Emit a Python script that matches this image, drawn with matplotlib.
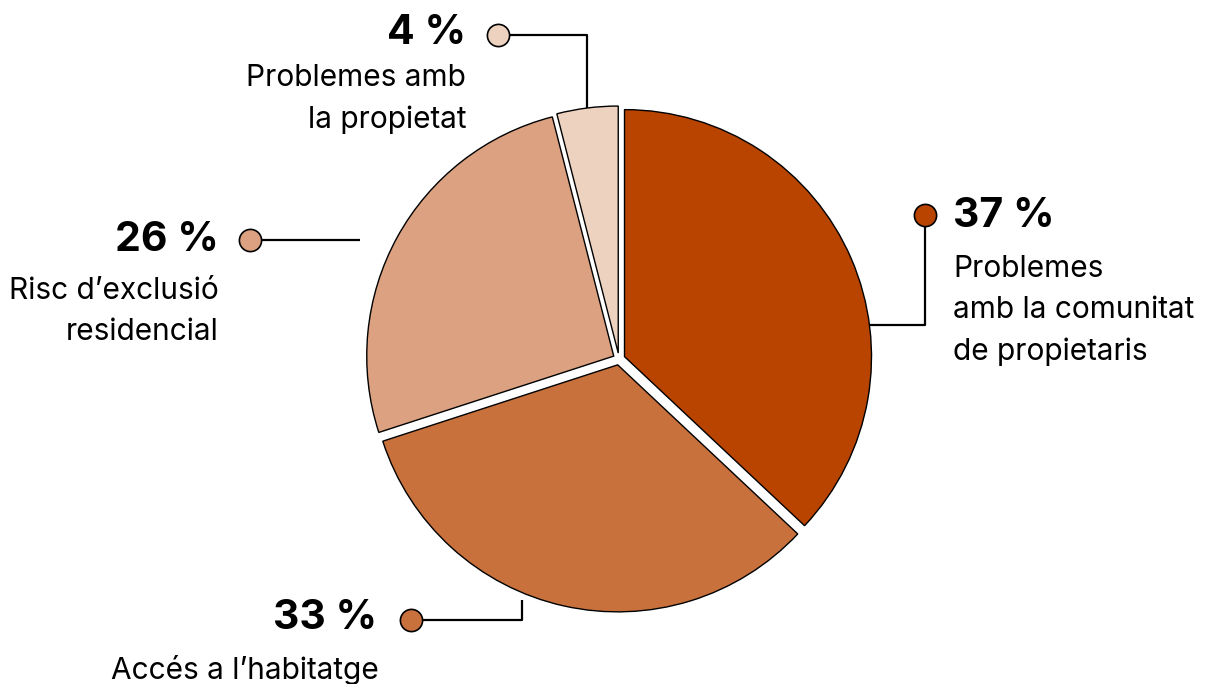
import matplotlib.pyplot as plt

# shares of cases by type of housing problem
shares = [37, 33, 26, 4]
labels = ["Problemes\namb la comunitat\nde propietaris",
          "Accés a l’habitatge",
          "Risc d’exclusió\nresidencial",
          "Problemes amb\nla propietat"]
colors = ["#B84400", "#C8713C", "#DBA180", "#EDD2C0"]

W, H = 1209, 684
plt.rcParams['font.family'] = ['Inter', 'DejaVu Sans']

fig = plt.figure(figsize=(W / 100, H / 100), dpi=100)
ax = fig.add_axes([0, 0, 1, 1])

def Y(y):
    # pixel rows measured from the top
    return H - y

# explode is given in data units here (radius is 247)
ax.pie(shares, colors=colors, startangle=90, counterclock=False,
       center=(619, Y(359)), radius=247, explode=[6] * len(shares),
       wedgeprops=dict(edgecolor="black", linewidth=1.0), frame=False)

ax.set_xlim(0, W)
ax.set_ylim(0, H)
ax.set_aspect('equal')
ax.axis('off')

# callouts: leader line path, dot position, value/label placement
callouts = [
    dict(path=[(925, 215), (925, 325), (860, 325)], dot=(925, 215),
         val=(953, 216), lab=(953, 255), ha="left"),
    dict(path=[(411, 620), (522, 620), (522, 600)], dot=(411, 620),
         val=(377, 618), lab=(379, 655), ha="right"),
    dict(path=[(250, 240), (360, 240)], dot=(250, 240),
         val=(219, 240), lab=(219, 277), ha="right"),
    dict(path=[(498, 35), (587, 35), (587, 110)], dot=(498, 35),
         val=(466, 33), lab=(466, 64), ha="right"),
]

for share, lab, col, c in zip(shares, labels, colors, callouts):
    xs = [p[0] for p in c["path"]]
    ys = [Y(p[1]) for p in c["path"]]
    ax.plot(xs, ys, color="black", lw=1.6, zorder=0, solid_capstyle="butt")
    ax.plot(c["dot"][0], Y(c["dot"][1]), "o", ms=16, mfc=col, mec="black",
            mew=1.2, zorder=5)
    ax.text(c["val"][0], Y(c["val"][1]), f"{share} %", ha=c["ha"],
            va="center", fontsize=29.5, fontweight="bold", color="black")
    ax.text(c["lab"][0], Y(c["lab"][1]), lab, ha=c["ha"], va="top",
            fontsize=21.5, color="black", linespacing=1.6,
            multialignment=c["ha"])

fig.savefig("out.png", dpi=100)
